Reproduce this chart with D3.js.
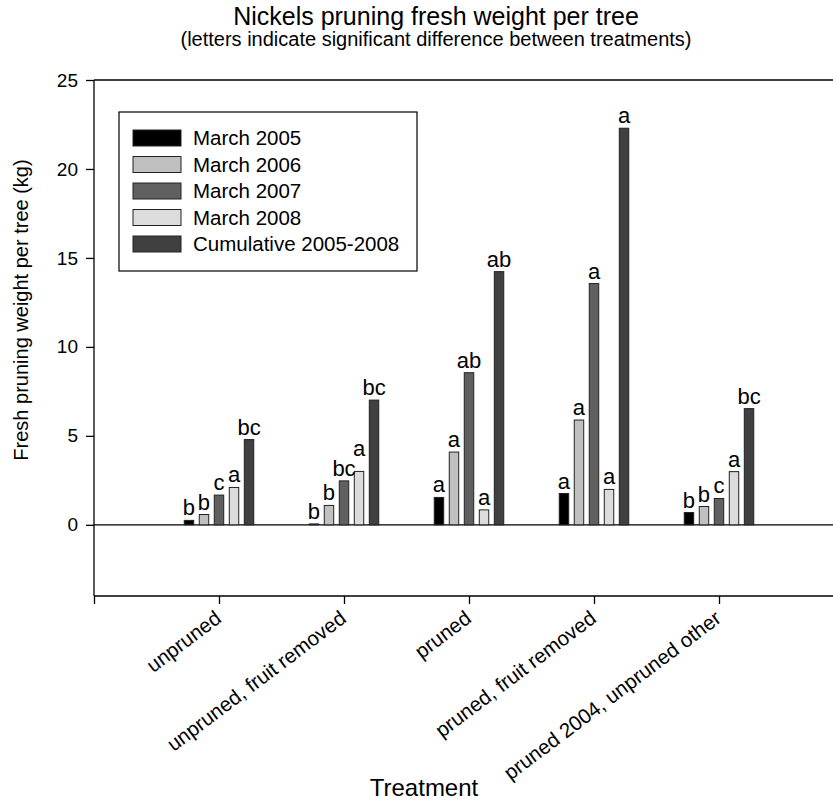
<!DOCTYPE html>
<html lang="en">
<head>
<meta charset="utf-8">
<title>Nickels pruning fresh weight per tree</title>
<script src="https://cdn.jsdelivr.net/npm/d3@7"></script>
<style>
  body { margin: 0; background: #fff; }
  text { font-family: Arial, "Liberation Sans", sans-serif; fill: #000; }
</style>
</head>
<body>
<script>
// data
var treatments = ["unpruned", "unpruned, fruit removed", "pruned", "pruned, fruit removed", "pruned 2004, unpruned other"];
var series = ["March 2005", "March 2006", "March 2007", "March 2008", "Cumulative 2005-2008"];
var colors = ["#000000", "#c0c0c0", "#606060", "#dcdcdc", "#404040"];

var march2005 = [0.25, 0.05, 1.54, 1.76, 0.69];
var march2006 = [0.58, 1.09, 4.09, 5.89, 1.03];
var march2007 = [1.67, 2.47, 8.55, 13.56, 1.48];
var march2008 = [2.10, 3.00, 0.84, 1.99, 2.99];
var cumulative = [4.79, 7.01, 14.23, 22.29, 6.53];

var letters2005 = ["b", "b", "a", "a", "b"];
var letters2006 = ["b", "b", "a", "a", "b"];
var letters2007 = ["c", "bc", "ab", "a", "c"];
var letters2008 = ["a", "a", "a", "a", "a"];
var lettersCum = ["bc", "bc", "ab", "a", "bc"];

var yTicks = [0, 5, 10, 15, 20, 25];

var values = [march2005, march2006, march2007, march2008, cumulative];
var letters = [letters2005, letters2006, letters2007, letters2008, lettersCum];

var w = 833, h = 801;
var svg = d3.select("body").append("svg").attr("width", w).attr("height", h);

// scales
var x = d3.scaleLinear().domain([0, 6]).range([94, 844]);
var y = d3.scaleLinear().domain([-4, 25]).range([596, 80]);
var inner = d3.scaleBand().domain(series).range([-34.75, 34.75]).paddingInner(0.37);

// flatten for drawing
var bars = [];
treatments.forEach(function(t, i) {
    series.forEach(function(s, j) {
        bars.push({ t: i + 1, s: s, j: j, v: values[j][i], letter: letters[j][i] });
    });
});

// title
svg.append("text").attr("x", 436).attr("y", 25).attr("text-anchor", "middle")
    .attr("font-size", "25px").text("Nickels pruning fresh weight per tree");
svg.append("text").attr("x", 436).attr("y", 46).attr("text-anchor", "middle")
    .attr("font-size", "20px").text("(letters indicate significant difference between treatments)");

// frame line on top
svg.append("line").attr("x1", 94).attr("x2", w).attr("y1", y(25)).attr("y2", y(25))
    .attr("stroke", "#000").attr("stroke-width", 1.3);

// y axis
var yAxis = svg.append("g").attr("transform", "translate(94,0)")
    .call(d3.axisLeft(y).tickValues(yTicks).tickSize(8).tickPadding(8));
yAxis.select(".domain").attr("d", "M0," + y(-4) + "V" + y(25)).attr("stroke-width", 1.3);
yAxis.selectAll(".tick line").attr("stroke-width", 1.3);
yAxis.selectAll(".tick text").attr("font-size", "19px").attr("font-family", "Arial, 'Liberation Sans', sans-serif");

// zero line
svg.append("line").attr("x1", 94).attr("x2", w).attr("y1", y(0)).attr("y2", y(0))
    .attr("stroke", "#000").attr("stroke-width", 1.3);

// x axis
var xAxis = svg.append("g").attr("transform", "translate(0," + y(-4) + ")")
    .call(d3.axisBottom(x).tickValues([0, 1, 2, 3, 4, 5]).tickSize(8)
        .tickFormat(function(d) { return d === 0 ? "" : treatments[d - 1]; }));
xAxis.select(".domain").attr("d", "M94,0H" + w).attr("stroke-width", 1.3);
xAxis.selectAll(".tick line").attr("stroke-width", 1.3);
xAxis.selectAll(".tick text")
    .attr("font-size", "20.5px").attr("font-family", "Arial, 'Liberation Sans', sans-serif")
    .attr("text-anchor", "end")
    .attr("x", 0).attr("y", 0).attr("dy", null)
    .attr("transform", "translate(3,25) rotate(-37)");

// bars
svg.selectAll("rect.bar")
    .data(bars)
    .enter()
    .append("rect")
    .attr("class", "bar")
    .attr("x", function(d) { return x(d.t) + inner(d.s); })
    .attr("y", function(d) { return y(d.v); })
    .attr("width", inner.bandwidth())
    .attr("height", function(d) { return y(0) - y(d.v); })
    .attr("fill", function(d) { return colors[d.j]; })
    .attr("stroke", "#222")
    .attr("stroke-width", 1);

// significance letters, lifted when they would run into the neighbour on the left
var lbl = svg.selectAll("text.letter")
    .data(bars)
    .enter()
    .append("text")
    .attr("class", "letter")
    .attr("x", function(d) { return x(d.t) + inner(d.s) + inner.bandwidth() / 2; })
    .attr("y", function(d) { return y(d.v) - 5; })
    .attr("text-anchor", "middle")
    .attr("font-size", "22px")
    .text(function(d) { return d.letter; });

var prev = null;
lbl.each(function(d) {
    var cx = +this.getAttribute("x");
    var half = this.getComputedTextLength() / 2;
    var by = +this.getAttribute("y");
    if (prev && prev.t === d.t && prev.right > cx - half + 1 &&
        by > prev.y - 18 && by < prev.y + 18) {
        by = prev.y - 20;
        this.setAttribute("y", by);
    }
    prev = { t: d.t, right: cx + half, y: by };
});

// legend
var legend = svg.append("g");
legend.append("rect").attr("x", 119).attr("y", 112).attr("width", 298).attr("height", 159)
    .attr("fill", "#fff").attr("stroke", "#000").attr("stroke-width", 1.2);
var items = legend.selectAll("g.item")
    .data(series)
    .enter()
    .append("g")
    .attr("transform", function(d, i) { return "translate(0," + (138 + i * 26.5) + ")"; });
items.append("rect").attr("x", 133).attr("y", -8).attr("width", 48).attr("height", 16)
    .attr("fill", function(d, i) { return colors[i]; })
    .attr("stroke", "#222").attr("stroke-width", 1);
items.append("text").attr("x", 193).attr("y", 7).attr("font-size", "20.5px")
    .text(function(d) { return d; });

// axis titles
svg.append("text").attr("x", 424).attr("y", 796).attr("text-anchor", "middle")
    .attr("font-size", "24px").text("Treatment");
svg.append("text").attr("transform", "translate(28,310) rotate(-90)")
    .attr("text-anchor", "middle").attr("font-size", "20px")
    .text("Fresh pruning weight per tree (kg)");
</script>
</body>
</html>
